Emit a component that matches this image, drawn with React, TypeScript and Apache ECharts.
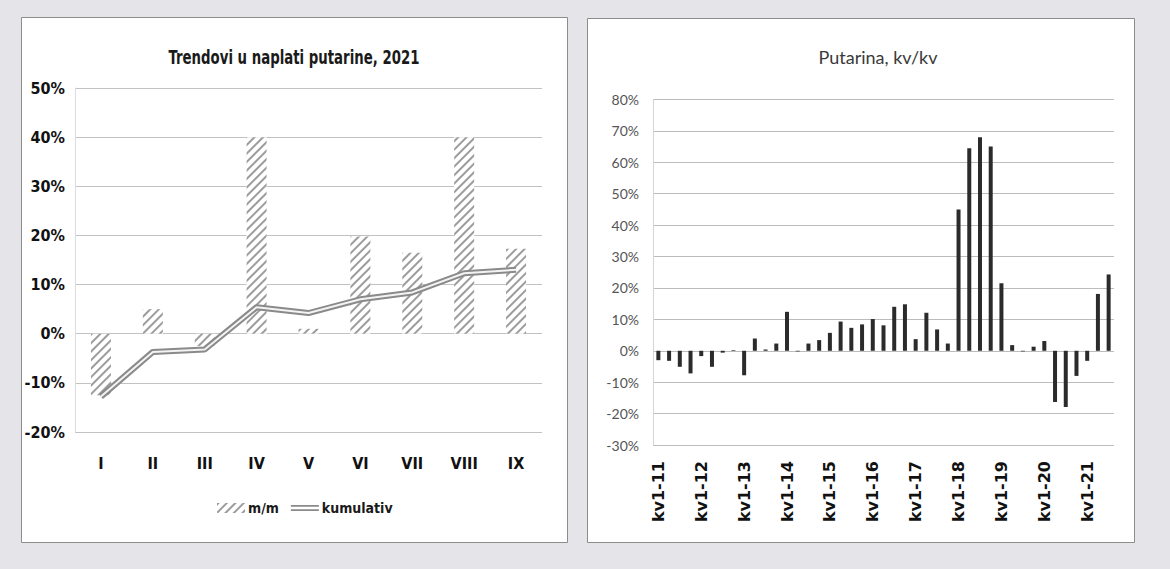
import React, { useEffect, useRef } from 'react';
import * as echarts from 'echarts';

const months = ['I', 'II', 'III', 'IV', 'V', 'VI', 'VII', 'VIII', 'IX'];
const mmValues = [-12.5, 5, -2.5, 40, 1, 19.8, 16.5, 40, 17.3];
const cumulativeValues = [-12.8, -3.7, -3.2, 5.4, 4.2, 7, 8.4, 12.3, 13];

const quarterLabels = [
  'kv1-11', 'kv2-11', 'kv3-11', 'kv4-11',
  'kv1-12', 'kv2-12', 'kv3-12', 'kv4-12',
  'kv1-13', 'kv2-13', 'kv3-13', 'kv4-13',
  'kv1-14', 'kv2-14', 'kv3-14', 'kv4-14',
  'kv1-15', 'kv2-15', 'kv3-15', 'kv4-15',
  'kv1-16', 'kv2-16', 'kv3-16', 'kv4-16',
  'kv1-17', 'kv2-17', 'kv3-17', 'kv4-17',
  'kv1-18', 'kv2-18', 'kv3-18', 'kv4-18',
  'kv1-19', 'kv2-19', 'kv3-19', 'kv4-19',
  'kv1-20', 'kv2-20', 'kv3-20', 'kv4-20',
  'kv1-21', 'kv2-21', 'kv3-21',
];
const quarterValues = [
  -3.0, -3.2, -5.1, -7.2,
  -1.7, -5.1, -0.6, 0.2,
  -7.8, 3.9, 0.4, 2.3,
  12.4, -0.2, 2.3, 3.4,
  5.7, 9.3, 7.3, 8.4,
  10.1, 8.1, 14.0, 14.8,
  3.7, 12.1, 6.8, 2.3,
  45, 64.5, 68, 65,
  21.5, 1.8, -0.2, 1.3,
  3.1, -16.3, -17.9, -8.0,
  -3.2, 18.1, 24.3,
];

const NARROW = "'Liberation Sans Narrow', 'Arial Narrow', 'DejaVu Sans Condensed', sans-serif";
const CALIBRI_LIKE = "Lato, 'Open Sans', sans-serif";

const hatch = {
  symbol: 'rect',
  symbolSize: 1,
  color: '#9c9c9c',
  dashArrayX: [1, 0],
  dashArrayY: [1.1, 3.4],
  rotation: -Math.PI / 4,
};

export default function App() {
  const ref = useRef<HTMLDivElement>(null);
  useEffect(() => {
    const chart = echarts.init(ref.current!, null, { renderer: 'svg' });
    const option: any = {
      animation: false,
      backgroundColor: '#e4e4e9',
      graphic: [
        {
          type: 'rect', z: -100, silent: true,
          shape: { x: 21.5, y: 17.5, width: 546, height: 525 },
          style: { fill: '#ffffff', stroke: '#8c8c8c', lineWidth: 1 },
        },
        {
          type: 'rect', z: -100, silent: true,
          shape: { x: 587.5, y: 18.5, width: 547, height: 524 },
          style: { fill: '#ffffff', stroke: '#8c8c8c', lineWidth: 1 },
        },
        {
          type: 'text', x: 294, y: 57, scaleX: 0.74,
          style: {
            text: 'Trendovi u naplati putarine, 2021',
            fontFamily: NARROW, fontWeight: 'bold', fontSize: 20, fill: '#1a1a1a',
            textAlign: 'center', textVerticalAlign: 'middle',
          },
        },
        {
          type: 'text', x: 878, y: 57,
          style: {
            text: 'Putarina, kv/kv',
            fontFamily: CALIBRI_LIKE, fontSize: 18, fill: '#3a3a3a',
            textAlign: 'center', textVerticalAlign: 'middle',
          },
        },
      ],
      legend: {
        left: 212,
        top: 496,
        itemWidth: 28,
        itemHeight: 10,
        itemGap: 12,
        textStyle: { fontFamily: NARROW, fontWeight: 'bold', fontSize: 14, color: '#1a1a1a', padding: [0, 0, 0, -2] },
        data: [
          { name: 'm/m', icon: 'rect', itemStyle: { color: '#ffffff', borderWidth: 0 } },
          {
            name: 'kumulativ',
            icon: 'path://M0,0H40V2.5H0Z M0,6H40V8.5H0Z',
            itemStyle: { color: '#8a8a8a', borderWidth: 0 },
          },
        ],
      },
      grid: [
        { left: 75, top: 88, width: 467, height: 344 },
        { left: 653, top: 99.5, width: 461, height: 345.5 },
      ],
      xAxis: [
        {
          gridIndex: 0, type: 'category', data: months,
          axisLine: { show: false, onZero: false },
          axisTick: { show: false },
          axisLabel: { margin: 23, fontFamily: NARROW, fontWeight: 'bold', fontSize: 16, color: '#111' },
        },
        {
          gridIndex: 1, type: 'category', data: quarterLabels,
          axisLine: { show: false, onZero: false },
          axisTick: { show: false },
          axisLabel: {
            interval: 3, rotate: 90, margin: 16,
            fontFamily: "'DejaVu Sans', sans-serif", fontWeight: 'bold', fontSize: 16, color: '#111',
          },
        },
      ],
      yAxis: [
        {
          gridIndex: 0, type: 'value', min: -20, max: 50, interval: 10,
          axisLine: { show: true, lineStyle: { color: '#dcdcdc' } },
          axisTick: { show: false },
          splitLine: { lineStyle: { color: '#c2c2c2', width: 1 } },
          axisLabel: { formatter: '{value}%', margin: 10, fontFamily: NARROW, fontWeight: 'bold', fontSize: 16, color: '#111' },
        },
        {
          gridIndex: 1, type: 'value', min: -30, max: 80, interval: 10,
          axisLine: { show: true, lineStyle: { color: '#d4d4d4' } },
          axisTick: { show: false },
          splitLine: { lineStyle: { color: '#bcbcbc', width: 1 } },
          axisLabel: { formatter: '{value}%', margin: 14, fontFamily: CALIBRI_LIKE, fontSize: 14, color: '#555' },
        },
      ],
      series: [
        {
          name: 'm/m', type: 'bar', xAxisIndex: 0, yAxisIndex: 0,
          data: mmValues, barWidth: 20,
          itemStyle: { color: '#ffffff', decal: hatch },
        },
        {
          name: 'kumulativ', type: 'line', xAxisIndex: 0, yAxisIndex: 0,
          data: cumulativeValues, symbol: 'none', z: 3,
          color: '#8a8a8a',
          lineStyle: { color: '#8a8a8a', width: 6 },
        },
        {
          name: 'kumulativ-inner', type: 'line', xAxisIndex: 0, yAxisIndex: 0,
          data: cumulativeValues, symbol: 'none', z: 4,
          color: '#f4f2f2',
          lineStyle: { color: '#f4f2f2', width: 2 },
        },
        {
          name: 'Putarina, kv/kv', type: 'bar', xAxisIndex: 1, yAxisIndex: 1,
          data: quarterValues, barWidth: 4,
          itemStyle: { color: '#2b2b2b' },
        },
      ],
    };
    chart.setOption(option);
    return () => chart.dispose();
  }, []);
  return (
    <div
      ref={ref}
      style={{ position: 'fixed', left: 0, top: 0, width: 1170, height: 569 }}
    />
  );
}
